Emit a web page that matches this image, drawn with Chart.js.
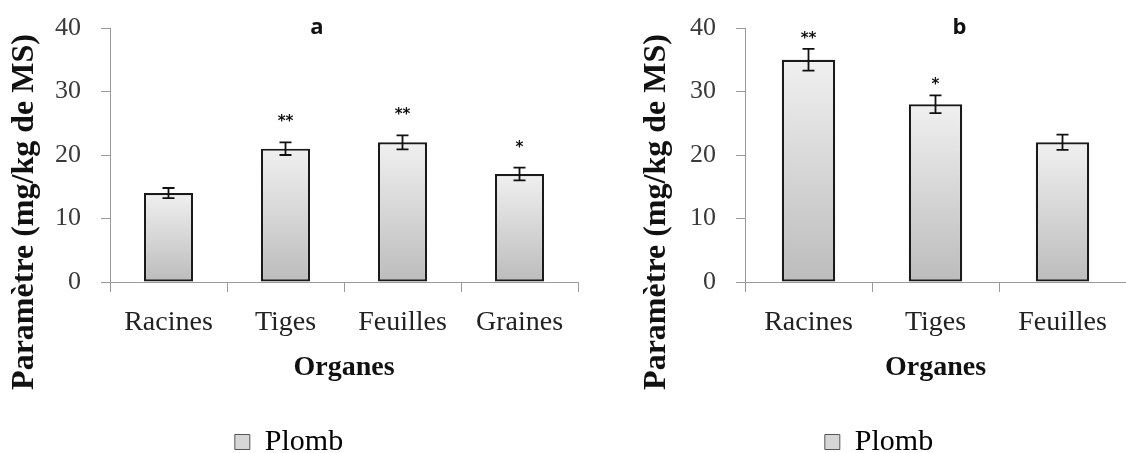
<!DOCTYPE html>
<html>
<head>
<meta charset="utf-8">
<script src="https://cdn.jsdelivr.net/npm/chart.js@4.4.0/dist/chart.umd.min.js"></script>
<style>
  body { margin: 0; background: #fff; width: 1126px; height: 453px; overflow: hidden; position: relative; }
  canvas { position: absolute; top: 0; }
  #chartA { left: 0; }
  #chartB { left: 632px; }
</style>
</head>
<body>
<canvas id="chartA" width="590" height="453"></canvas>
<canvas id="chartB" width="494" height="453"></canvas>
<script>
// panel a
var organesA = ['Racines', 'Tiges', 'Feuilles', 'Graines'];
var plombA = [14, 21, 22, 17];
var erreurA = [0.8, 1.0, 1.1, 1.0];
var signifA = ['', '**', '**', '*'];

// panel b
var organesB = ['Racines', 'Tiges', 'Feuilles'];
var plombB = [35, 28, 22];
var erreurB = [1.7, 1.4, 1.2];
var signifB = ['**', '*', ''];

var yTicks = [0, 10, 20, 30, 40];

var serif = '"Liberation Serif", "Times New Roman", serif';

// vertical grey gradient for each bar
function barFill(context) {
  var chart = context.chart;
  var y = chart.scales.y;
  if (!chart.chartArea || !y) return '#d0d0d0';
  var top = y.getPixelForValue(context.raw);
  var base = y.getPixelForValue(0);
  if (!isFinite(top) || !isFinite(base)) return '#d0d0d0';
  var g = chart.ctx.createLinearGradient(0, top, 0, base);
  g.addColorStop(0, '#f0f0f0');
  g.addColorStop(1, '#bcbcbc');
  return g;
}

// error bars, stars, panel letter and rotated y title
var extrasPlugin = {
  id: 'extras',
  afterDatasetsDraw: function(chart, args, opts) {
    var ctx = chart.ctx;
    var x = chart.scales.x, y = chart.scales.y;
    var vals = chart.data.datasets[0].data;
    ctx.save();
    ctx.strokeStyle = '#111';
    ctx.lineWidth = 1.8;
    vals.forEach(function(v, i) {
      var e = opts.errors[i];
      var px = x.getPixelForValue(i);
      var top = y.getPixelForValue(v + e);
      var bot = y.getPixelForValue(v - e);
      ctx.beginPath();
      ctx.moveTo(px, top); ctx.lineTo(px, bot);
      ctx.moveTo(px - 6, top); ctx.lineTo(px + 6, top);
      ctx.moveTo(px - 6, bot); ctx.lineTo(px + 6, bot);
      ctx.stroke();
      if (opts.stars[i]) {
        ctx.fillStyle = '#111';
        ctx.font = 'bold 15px "DejaVu Sans"';
        ctx.textAlign = 'center';
        ctx.textBaseline = 'middle';
        ctx.fillText(opts.stars[i], px, top - opts.starGap);
      }
    });

    var area = chart.chartArea;
    ctx.fillStyle = '#111';
    ctx.font = 'bold 22px "Open Sans"';
    ctx.textAlign = 'center';
    ctx.textBaseline = 'middle';
    ctx.fillText(opts.letter, (area.left + area.right) / 2 + opts.letterDx, area.top);

    ctx.translate(opts.yTitleX, opts.yTitleY);
    ctx.rotate(-Math.PI / 2);
    ctx.font = 'bold 32px ' + serif;
    ctx.fillText('Paramètre (mg/kg de MS)', 0, 0);
    ctx.restore();
  }
};

function makeChart(id, labels, values, errors, stars, letter, letterDx, starGap, yWidth, padRight) {
  return new Chart(document.getElementById(id), {
    type: 'bar',
    data: {
      labels: labels,
      datasets: [{
        label: 'Plomb',
        data: values,
        backgroundColor: barFill,
        borderColor: '#1a1a1a',
        borderWidth: 2.2,
        borderSkipped: false,
        categoryPercentage: 1,
        barPercentage: 0.42
      }]
    },
    options: {
      responsive: false,
      animation: false,
      layout: { padding: { top: 28, right: padRight, left: 0, bottom: -14 } },
      plugins: {
        tooltip: { enabled: false },
        legend: {
          position: 'bottom',
          labels: {
            boxWidth: 15,
            boxHeight: 15,
            padding: 0,
            color: '#111',
            font: { family: serif, size: 30 },
            generateLabels: function() {
              return [{ text: 'Plomb', fillStyle: '#d6d6d6', strokeStyle: '#555', lineWidth: 1, datasetIndex: 0 }];
            }
          }
        },
        extras: {
          errors: errors, stars: stars, letter: letter, letterDx: letterDx,
          starGap: starGap, yTitleX: 25, yTitleY: 212
        }
      },
      scales: {
        x: {
          grid: { drawOnChartArea: false, drawTicks: true, tickLength: 10, color: '#9a9a9a', offset: true },
          border: { color: '#9a9a9a', width: 1 },
          ticks: { color: '#222', font: { family: serif, size: 28 }, padding: 14 },
          title: {
            display: true, text: 'Organes', color: '#111',
            font: { family: serif, size: 28, weight: 'bold' },
            padding: { top: 0, bottom: 42 }
          },
          afterFit: function(s) { s.height = 145; }
        },
        y: {
          min: 0, max: 40,
          afterBuildTicks: function(s) { s.ticks = yTicks.map(function(v) { return { value: v }; }); },
          grid: { drawOnChartArea: false, drawTicks: true, tickLength: 9, color: '#9a9a9a' },
          border: { color: '#9a9a9a', width: 1 },
          ticks: { color: '#3a3a3a', font: { family: serif, size: 26, lineHeight: 0.6 }, padding: 20 },
          afterFit: function(s) { s.width = yWidth; }
        }
      }
    },
    plugins: [extrasPlugin]
  });
}

makeChart('chartA', organesA, plombA, erreurA, signifA, 'a', -27, 20, 110, 12);
makeChart('chartB', organesB, plombB, erreurB, signifB, 'b', 24, 10, 113, 0);
</script>
</body>
</html>
